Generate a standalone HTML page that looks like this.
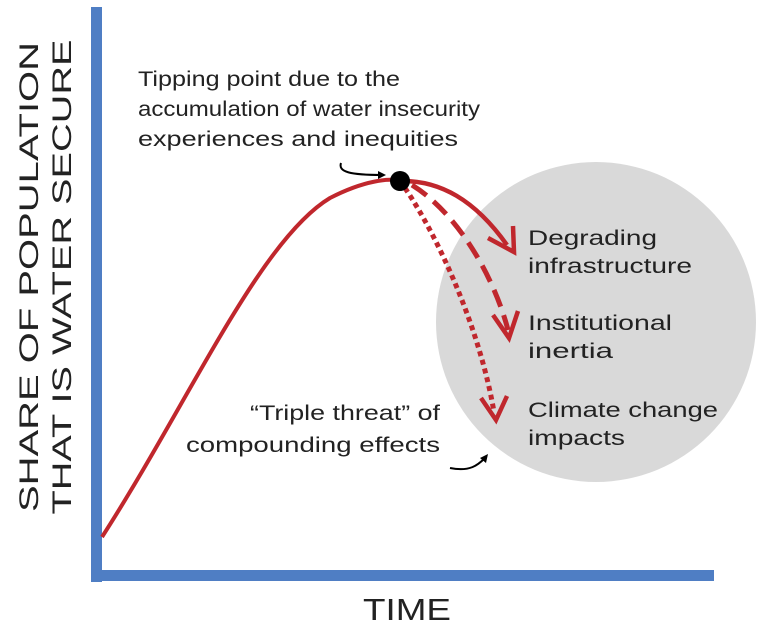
<!DOCTYPE html>
<html><head><style>
body{margin:0;background:#fff;width:758px;height:627px;overflow:hidden}
svg text{font-family:"Liberation Sans",sans-serif;fill:#222}
</style></head><body>
<svg width="758" height="627" viewBox="0 0 758 627">
<circle cx="596" cy="322" r="160" fill="#d9d9d9"/>
<rect x="91" y="7" width="11" height="575" fill="#4f7ec4"/>
<rect x="91" y="570" width="623" height="11" fill="#4f7ec4"/>
<text transform="translate(38,277) rotate(-90)" text-anchor="middle" font-size="27" textLength="470" lengthAdjust="spacingAndGlyphs">SHARE OF POPULATION</text>
<text transform="translate(71,277) rotate(-90)" text-anchor="middle" font-size="27" textLength="475" lengthAdjust="spacingAndGlyphs">THAT IS WATER SECURE</text>
<text x="363" y="620" font-size="31" textLength="88" lengthAdjust="spacingAndGlyphs">TIME</text>
<path d="M102,537 C190,400 260,240 330,198 C365,180 390,178 400,181" fill="none" stroke="#c0272d" stroke-width="4"/>
<path d="M400,181 C440,180 475,200 507,245" fill="none" stroke="#c0272d" stroke-width="4.5"/>
<path d="M488,238 L514,252 L513,226" fill="none" stroke="#c0272d" stroke-width="4.5"/>
<path d="M412,185 C460,215 495,280 508,330" fill="none" stroke="#c0272d" stroke-width="5" stroke-dasharray="18,9"/>
<path d="M493,315 L509,338 L518,311" fill="none" stroke="#c0272d" stroke-width="4.5"/>
<path d="M405,188 C440,240 480,330 494,412" fill="none" stroke="#c0272d" stroke-width="5" stroke-dasharray="5,4"/>
<path d="M481,398 L496,420 L507,396" fill="none" stroke="#c0272d" stroke-width="4.5"/>
<circle cx="400" cy="181" r="10" fill="#000"/>
<path d="M341,163 C338,172 350,175 383,175" fill="none" stroke="#000" stroke-width="2"/>
<path d="M378,171 L386,175 L378,179 Z" fill="#000"/>
<path d="M450,468 C470,472 478,465 485,458" fill="none" stroke="#000" stroke-width="2"/>
<path d="M480,458 L488,454 L486,463 Z" fill="#000"/>
<g font-size="21">
<text x="138" y="86" textLength="262" lengthAdjust="spacingAndGlyphs">Tipping point due to the</text>
<text x="138" y="116" textLength="342" lengthAdjust="spacingAndGlyphs">accumulation of water insecurity</text>
<text x="138" y="146" textLength="320" lengthAdjust="spacingAndGlyphs">experiences and inequities</text>
<text x="250" y="420" textLength="190" lengthAdjust="spacingAndGlyphs">“Triple threat” of</text>
<text x="186" y="452" textLength="254" lengthAdjust="spacingAndGlyphs">compounding effects</text>
<text x="528" y="245" textLength="129" lengthAdjust="spacingAndGlyphs">Degrading</text>
<text x="528" y="273" textLength="164" lengthAdjust="spacingAndGlyphs">infrastructure</text>
<text x="528" y="330" textLength="144" lengthAdjust="spacingAndGlyphs">Institutional</text>
<text x="528" y="358" textLength="85" lengthAdjust="spacingAndGlyphs">inertia</text>
<text x="528" y="417" textLength="190" lengthAdjust="spacingAndGlyphs">Climate change</text>
<text x="528" y="445" textLength="97" lengthAdjust="spacingAndGlyphs">impacts</text>
</g>
</svg>
</body></html>
